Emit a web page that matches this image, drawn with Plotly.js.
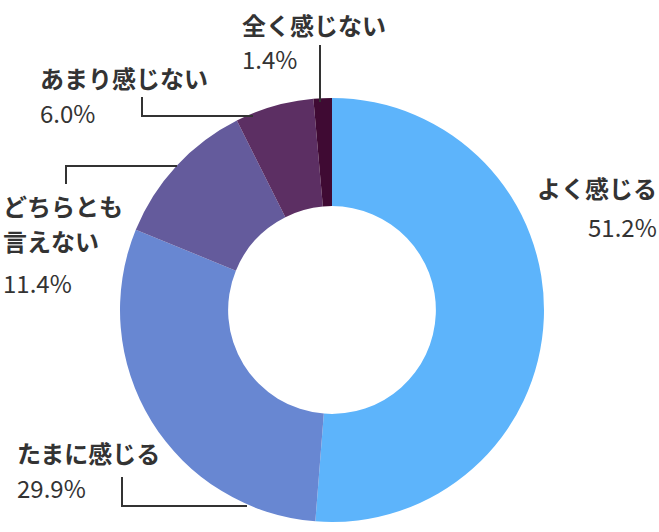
<!DOCTYPE html>
<html><head><meta charset="utf-8">
<script src="https://cdn.plot.ly/plotly-3.0.1.min.js"></script>
<style>html,body{margin:0;padding:0;background:#fff}#chart{width:659px;height:532px}</style>
</head><body><div id="chart"></div>
<script>
const categories = ["よく感じる", "たまに感じる", "どちらとも 言えない", "あまり感じない", "全く感じない"];
const values = [51.2, 29.9, 11.4, 6.0, 1.4];
const valueLabels = ["51.2%", "29.9%", "11.4%", "6.0%", "1.4%"];
const colors = ["#5db4fb", "#6887d2", "#645b9c", "#5c2f63", "#3f0a33"];

const W = 659, H = 532;
const px = x => x / W;
const py = y => 1 - y / H;
const FONT = '"Noto Sans CJK JP", "Noto Sans", sans-serif';
const TXT = '#333333';

// label positions in pixels: [x, yLabelLines..., yValue, anchor]
const labelPos = [
  {x: 658, ys: [188], yv: 226, a: 'right'},
  {x: 16, ys: [452], yv: 487, a: 'left'},
  {x: 2, ys: [205, 241], yv: 282, a: 'left'},
  {x: 39, ys: [78], yv: 112, a: 'left'},
  {x: 241, ys: [24], yv: 58, a: 'left'}
];

const annotations = [];
categories.forEach((c, i) => {
  const p = labelPos[i];
  const lines = c.split(' ');
  lines.forEach((ln, k) => {
    annotations.push({x: px(p.x), y: py(p.ys[k]), xref: 'paper', yref: 'paper', xanchor: p.a, yanchor: 'middle',
      text: '<b>' + ln + '</b>', showarrow: false, align: p.a, borderpad: 0,
      font: {family: FONT, size: 24, color: TXT}});
  });
  annotations.push({x: px(p.x), y: py(p.yv), xref: 'paper', yref: 'paper', xanchor: p.a, yanchor: 'middle',
    text: valueLabels[i], showarrow: false, align: p.a, borderpad: 0,
    font: {family: FONT, size: 24, color: TXT}});
});

// leader lines (pixel paths)
const leaders = [
  [[320, 45], [320, 102]],
  [[142, 97], [142, 116], [253, 116]],
  [[66, 184], [66, 166], [177, 166]],
  [[122, 477], [122, 506], [247, 506]]
];
const shapes = leaders.map(pts => ({
  type: 'path', xref: 'paper', yref: 'paper',
  path: pts.map((q, k) => (k ? 'L' : 'M') + px(q[0]) + ',' + py(q[1])).join(' '),
  line: {color: TXT, width: 2}
}));

const trace = {
  type: 'pie', labels: categories, values: values, sort: false, direction: 'clockwise', rotation: 0,
  hole: 0.49, textinfo: 'none', hoverinfo: 'label+percent',
  marker: {colors: colors, line: {width: 0}},
  domain: {x: [px(332 - 212), px(332 + 212)], y: [py(522), py(98)]},
  showlegend: false
};

Plotly.newPlot('chart', [trace], {
  width: W, height: H, margin: {l: 0, r: 0, t: 0, b: 0},
  paper_bgcolor: '#fff', showlegend: false, annotations: annotations, shapes: shapes
}, {displayModeBar: false, staticPlot: true});
</script></body></html>
